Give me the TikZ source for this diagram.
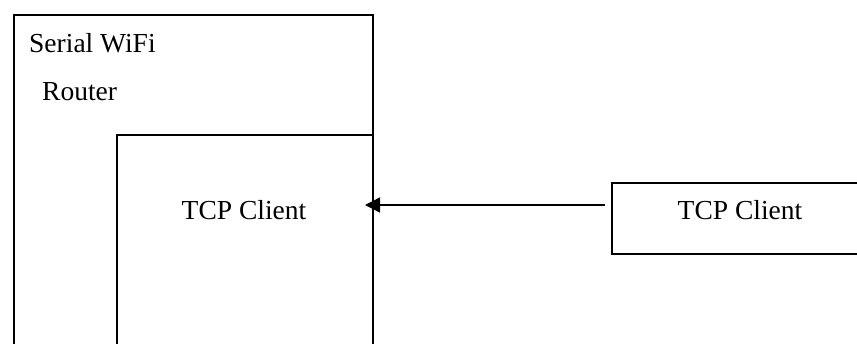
\documentclass[tikz,border=0pt]{standalone}
\usepackage{fontspec}
\setmainfont{Liberation Serif}
\usetikzlibrary{arrows.meta}
\begin{document}
\begin{tikzpicture}[x=1pt,y=-1pt,
  boxshape/.style={draw=black,line width=1.6pt,inner sep=0pt,anchor=north west},
  lbl/.style={inner sep=0pt,font=\fontsize{27.5pt}{33pt}\selectfont},
  arr/.style={line width=1.3pt,-{Triangle[length=15pt,width=15pt]}}]
\useasboundingbox (0,0) rectangle (857,343);
\clip (0,0) rectangle (857,343);
\fill[white] (0,0) rectangle (857,343);
\node[boxshape,minimum width=359pt,minimum height=360pt] (router) at (13,14) {};
\node[boxshape,minimum width=256pt,minimum height=240pt] (inner) at (116,134) {};
\node[boxshape,minimum width=270pt,minimum height=71pt] (remote) at (611,182) {};
\node[lbl,anchor=base west] (t1) at (29,52) {Serial WiFi};
\node[lbl,anchor=base west] (t2) at (42,100) {Router};
\node[lbl,anchor=base] (t3) at (244,219) {TCP Client};
\node[lbl,anchor=base] (t4) at (740,219) {TCP Client};
\coordinate (tip) at (365,205);
\draw[arr] ([xshift=-6pt]remote.west |- tip) -- (tip);
\end{tikzpicture}
\end{document}
